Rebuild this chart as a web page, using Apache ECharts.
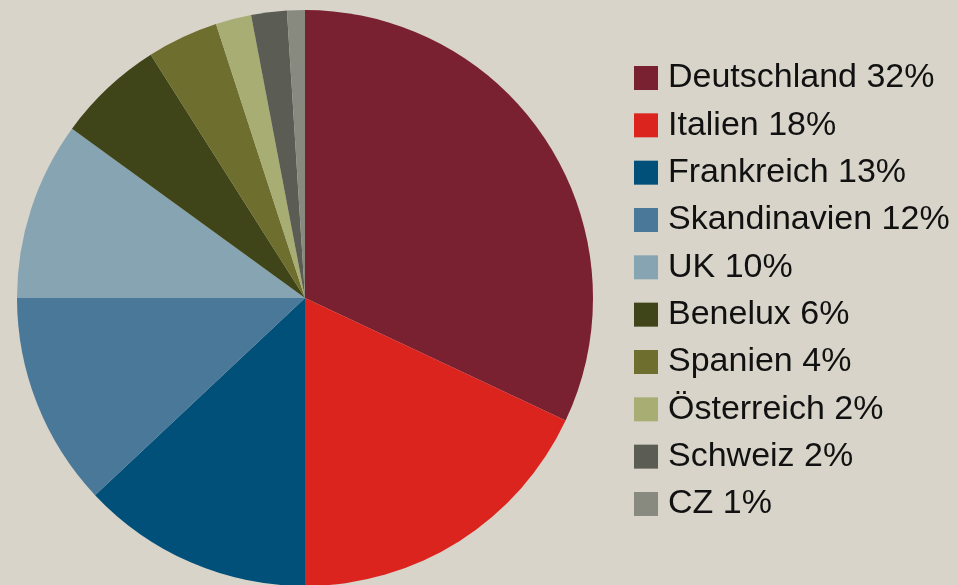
<!DOCTYPE html>
<html>
<head>
<meta charset="utf-8">
<script src="https://cdn.jsdelivr.net/npm/echarts@6/dist/echarts.min.js"></script>
<style>
  html, body { margin: 0; padding: 0; background: #d8d4ca; }
  #chart { width: 958px; height: 585px; }
</style>
</head>
<body>
<div id="chart"></div>
<script>
// Länder und Anteile in %
const countries = ["Deutschland", "Italien", "Frankreich", "Skandinavien", "UK", "Benelux", "Spanien", "Österreich", "Schweiz", "CZ"];
const shares = [32, 18, 13, 12, 10, 6, 4, 2, 2, 1];
const colors = ["#7a2131", "#dc241f", "#00507a", "#4a7898", "#86a4b1", "#3f4518", "#6e6e2e", "#a8ad74", "#5b5d55", "#888a80"];

const myChart = echarts.init(document.getElementById("chart"));

const pieData = countries.map((name, i) => ({
  name: name,
  value: shares[i],
  itemStyle: { color: colors[i] }
}));

let option = {
  backgroundColor: "#d8d4ca",
  animation: false,
  legend: {
    orient: "vertical",
    left: 629,
    top: 56,
    itemWidth: 24,
    itemHeight: 24,
    itemGap: 13.33,
    icon: "rect",
    data: countries,
    formatter: (name) => name + " " + shares[countries.indexOf(name)] + "%",
    textStyle: {
      fontFamily: "Liberation Sans, Arial, sans-serif",
      fontSize: 34,
      lineHeight: 34,
      color: "#111",
      padding: [0, 0, 0, 5]
    }
  },
  series: [
    {
      type: "pie",
      center: [305, 298],
      radius: 288,
      startAngle: 90,
      clockwise: true,
      label: { show: false },
      labelLine: { show: false },
      emphasis: { disabled: true },
      itemStyle: { borderWidth: 0 },
      data: pieData
    }
  ]
};

option && myChart.setOption(option);
</script>
</body>
</html>
